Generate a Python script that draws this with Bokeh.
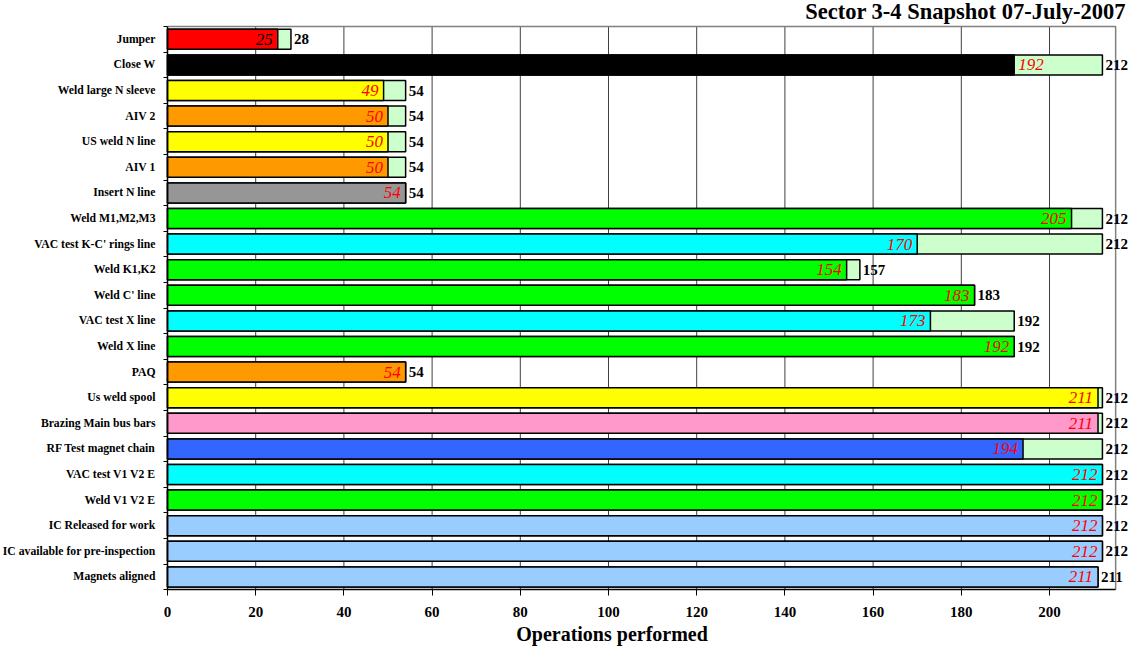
from bokeh.plotting import figure
from bokeh.models import Range1d, FixedTicker, ColumnDataSource, LabelSet, Label
from bokeh.embed import file_html
from bokeh.resources import INLINE

categories = ["Jumper", "Close W", "Weld large N sleeve", "AIV 2", "US weld N line", "AIV 1",
              "Insert N line", "Weld M1,M2,M3", "VAC test K-C' rings line", "Weld K1,K2",
              "Weld C' line", "VAC test X line", "Weld X line", "PAQ", "Us weld spool",
              "Brazing Main bus bars", "RF Test magnet chain", "VAC test V1 V2 E", "Weld V1 V2 E",
              "IC Released for work", "IC available for pre-inspection", "Magnets aligned"]
done = [25, 192, 49, 50, 50, 50, 54, 205, 170, 154, 183, 173, 192, 54, 211, 211, 194, 212, 212, 212, 212, 211]
totals = [28, 212, 54, 54, 54, 54, 54, 212, 212, 157, 183, 192, 192, 54, 212, 212, 212, 212, 212, 212, 212, 211]
x_ticks = [0, 20, 40, 60, 80, 100, 120, 140, 160, 180, 200]
x_max = 215

bar_colors = ["#FF0000", "#000000", "#FFFF00", "#FF9900", "#FFFF00", "#FF9900", "#969696",
              "#00FF00", "#00FFFF", "#00FF00", "#00FF00", "#00FFFF", "#00FF00", "#FF9900",
              "#FFFF00", "#FF99CC", "#3366FF", "#00FFFF", "#00FF00", "#99CCFF", "#99CCFF", "#99CCFF"]

FONT = "Liberation Serif"
n = len(categories)
ys = [n - 0.5 - i for i in range(n)]

W, H = 1129, 651
left = 167         # px left of x = 0
sx = 4.41          # px per x unit
sy = 25.6          # px per row
top_px = 26        # px above the plot box
x_start = -left / sx
x_end = (W - left) / sx
y_top = n + top_px / sy
y_bot = y_top - H / sy

p = figure(width=W, height=H, output_backend="svg", toolbar_location=None,
           x_range=Range1d(x_start, x_end), y_range=Range1d(y_bot, y_top),
           min_border_left=0, min_border_right=0, min_border_top=0, min_border_bottom=0)
p.title.visible = False
p.background_fill_color = "white"
p.border_fill_color = "white"
p.outline_line_color = None

# x axis drawn at y = 0
p.xaxis.fixed_location = 0
p.xaxis.bounds = (0, x_max)
p.xaxis.ticker = FixedTicker(ticks=x_ticks)
p.xaxis.axis_line_color = "black"
p.xaxis.axis_line_width = 1.5
p.xaxis.major_tick_in = 0
p.xaxis.major_tick_out = 6
p.xaxis.minor_tick_line_color = None
p.xaxis.major_label_text_font = FONT
p.xaxis.major_label_text_font_style = "bold"
p.xaxis.major_label_text_font_size = "15px"
p.xaxis.major_label_text_color = "black"
p.xaxis.major_label_standoff = 11

# y axis drawn at x = 0
p.yaxis.fixed_location = 0
p.yaxis.bounds = (0, n)
p.yaxis.ticker = FixedTicker(ticks=ys, minor_ticks=list(range(n + 1)))
p.yaxis.major_label_overrides = {y: c for y, c in zip(ys, categories)}
p.yaxis.axis_line_color = "black"
p.yaxis.axis_line_width = 1.5
p.yaxis.major_tick_in = 0
p.yaxis.major_tick_out = 0
p.yaxis.minor_tick_in = 0
p.yaxis.minor_tick_out = 4
p.yaxis.minor_tick_line_color = "black"
p.yaxis.major_label_text_font = FONT
p.yaxis.major_label_text_font_style = "bold"
p.yaxis.major_label_text_font_size = "11.7px"
p.yaxis.major_label_text_color = "black"
p.yaxis.major_label_standoff = 8

p.xgrid.visible = False
p.ygrid.visible = False

# vertical grid lines inside the plot box
gx = x_ticks[1:]
p.segment(x0=gx, y0=[0] * len(gx), x1=gx, y1=[n] * len(gx), line_color="#404040", line_width=1)
# plot box border (top and right)
p.line(x=[0, x_max, x_max], y=[n, n, 0], line_color="#808080", line_width=1.5)

src = ColumnDataSource(dict(y=ys, done=done, total=totals, color=bar_colors,
                            done_txt=[str(v) for v in done], total_txt=[str(v) for v in totals],
                            lab_color=["black" if c == "#FF0000" else "red" for c in bar_colors]))

p.hbar(y="y", left=0, right="total", height=0.78, source=src,
       fill_color="#CCFFCC", line_color="black", line_width=1.5)
p.hbar(y="y", left=0, right="done", height=0.78, source=src,
       fill_color="color", line_color="black", line_width=1.5)

inside_idx = [i for i, c in enumerate(bar_colors) if c != "#000000"]
outside_idx = [i for i, c in enumerate(bar_colors) if c == "#000000"]

def sub(idx):
    d = src.data
    return ColumnDataSource({k: [d[k][i] for i in idx] for k in d})

p.add_layout(LabelSet(x="done", y="y", text="done_txt", source=sub(inside_idx),
                      x_offset=-5, text_align="right", text_baseline="middle",
                      text_font=FONT, text_font_style="italic", text_font_size="17px",
                      text_color="lab_color"))
p.add_layout(LabelSet(x="done", y="y", text="done_txt", source=sub(outside_idx),
                      x_offset=4, text_align="left", text_baseline="middle",
                      text_font=FONT, text_font_style="italic", text_font_size="17px",
                      text_color="red"))
p.add_layout(LabelSet(x="total", y="y", text="total_txt", source=src,
                      x_offset=3, text_align="left", text_baseline="middle",
                      text_font=FONT, text_font_style="bold", text_font_size="15px",
                      text_color="black"))

p.add_layout(Label(x=x_max + 2.3, y=n + 15 / sy, text="Sector 3-4 Snapshot 07-July-2007",
                   text_align="right", text_baseline="middle",
                   text_font=FONT, text_font_style="bold", text_font_size="22.5px",
                   text_color="black"))
p.add_layout(Label(x=100.8, y=-44 / sy, text="Operations performed",
                   text_align="center", text_baseline="middle",
                   text_font=FONT, text_font_style="bold", text_font_size="20px",
                   text_color="black"))

open("out.html", "w").write(file_html(p, INLINE))
